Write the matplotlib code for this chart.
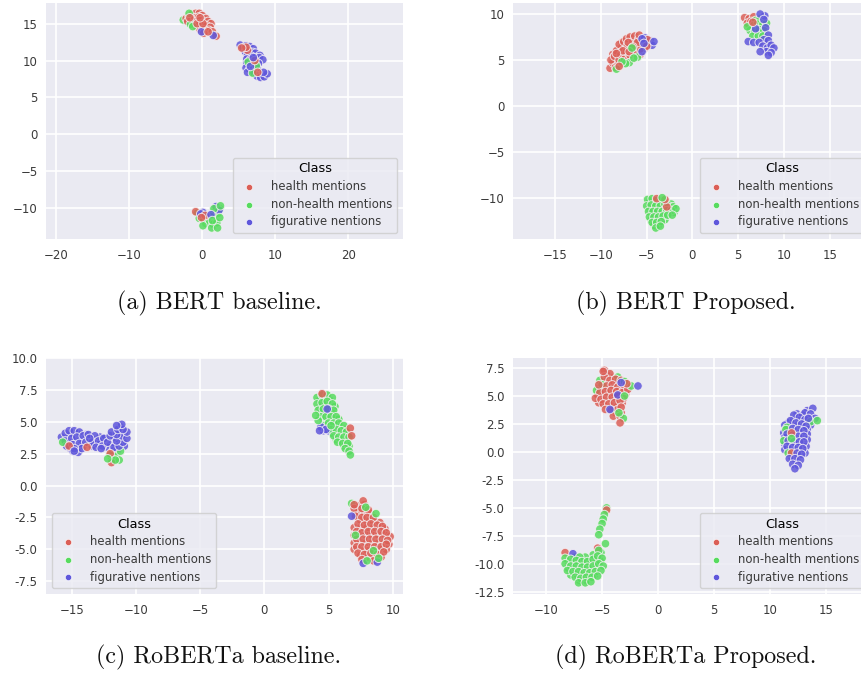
import matplotlib
matplotlib.use("Agg")
import matplotlib.pyplot as plt
import numpy as np

# class ids: 0 health, 1 non-health, 2 figurative
class_names = ["health mentions", "non-health mentions", "figurative nentions"]
class_colors = ["#db5f57", "#57db5f", "#5f57db"]
captions = ["(a) BERT baseline.", "(b) BERT Proposed.", "(c) RoBERTa baseline.", "(d) RoBERTa Proposed."]

# points are (x, y, class), drawn in this order
points_a = [
    # top cluster
    (-2.6, 15.5, 1), (-2.2, 15.7, 0), (-1.8, 16.0, 0), (-1.4, 16.3, 0), (-0.9, 16.4, 0), (-0.4, 16.4, 0), (0.0, 16.1, 0),
    (-2.0, 15.3, 0), (-1.5, 15.6, 0), (-1.0, 15.8, 0), (-0.5, 15.9, 0), (0.1, 15.6, 0), (0.5, 15.7, 0), (-1.3, 15.0, 0),
    (-0.8, 15.3, 0), (-0.3, 15.4, 0), (0.3, 15.2, 0), (0.8, 15.3, 0), (1.2, 15.0, 0), (-0.9, 14.7, 0), (-0.4, 14.8, 0),
    (0.1, 14.7, 0), (0.6, 14.7, 0), (1.1, 14.5, 0), (-0.3, 14.2, 0), (0.3, 14.2, 0), (0.9, 14.1, 0), (1.4, 13.9, 0),
    (0.2, 13.7, 0), (1.9, 13.3, 0), (-1.8, 16.4, 1), (-1.6, 14.9, 1), (-1.3, 14.6, 1), (-0.1, 13.9, 2), (1.5, 13.4, 2),
    (0.8, 13.9, 0), (-0.7, 15.0, 0), (-1.7, 15.8, 0), (0.1, 15.0, 0), (-0.3, 15.8, 0),
    # right cluster
    (5.2, 12.1, 2), (5.6, 11.7, 2), (6.0, 12.0, 2), (6.5, 11.9, 2), (7.0, 11.6, 2), (5.9, 11.2, 2), (6.4, 11.2, 2),
    (6.9, 11.1, 2), (7.3, 11.0, 2), (7.9, 10.7, 2), (6.2, 10.7, 2), (6.7, 10.6, 2), (7.3, 10.4, 2), (6.1, 10.2, 2),
    (6.6, 10.1, 2), (7.2, 9.9, 2), (7.8, 10.4, 2), (8.3, 10.1, 2), (6.1, 9.6, 2), (6.6, 9.4, 2), (7.1, 9.5, 2),
    (7.7, 9.6, 2), (6.0, 9.0, 2), (6.5, 8.8, 2), (7.0, 8.8, 2), (7.5, 9.0, 2), (6.2, 8.4, 2), (7.1, 8.3, 2),
    (7.5, 7.9, 2), (8.0, 7.7, 2), (8.5, 7.8, 2), (8.9, 8.2, 2), (8.4, 8.4, 2), (6.2, 11.4, 0), (6.0, 11.8, 0),
    (5.4, 11.7, 0), (6.3, 9.8, 1), (7.4, 9.3, 1), (6.9, 8.3, 1), (6.6, 9.2, 2),
    (7.6, 8.4, 0), (7.2, 10.0, 0), (7.0, 10.4, 2),
    # bottom cluster
    (-0.7, -10.7, 1), (-0.2, -10.9, 1), (0.3, -11.0, 1), (-0.4, -11.4, 1), (0.2, -11.6, 1), (0.7, -11.5, 1), (1.2, -11.3, 1),
    (1.7, -11.1, 1), (0.5, -12.1, 1), (1.0, -12.0, 1), (1.5, -12.2, 1), (2.0, -12.0, 1), (1.3, -12.7, 1), (2.1, -12.7, 1),
    (0.1, -12.4, 1), (1.6, -10.6, 1), (2.2, -10.7, 1), (2.4, -10.1, 1), (1.9, -9.8, 2), (2.3, -10.3, 2), (1.6, -10.1, 1),
    (-0.9, -10.5, 0), (0.1, -10.6, 2), (-0.2, -10.8, 2), (0.4, -11.0, 0), (1.2, -10.9, 2), (-0.1, -11.3, 0),
    (2.5, -9.7, 1), (1.4, -11.7, 1), (2.4, -11.3, 1),
]

points_b = [
    # left cluster, underlay
    (-8.7, 5.6, 0), (-8.6, 4.3, 0), (-8.4, 4.9, 0), (-8.1, 6.2, 0), (-7.8, 5.2, 0), (-7.5, 5.6, 0), (-7.4, 6.4, 0),
    (-7.3, 4.9, 0), (-7.7, 6.9, 0), (-7.0, 6.3, 0), (-6.9, 7.2, 0), (-6.6, 6.7, 0), (-6.5, 5.6, 0), (-6.2, 6.1, 0),
    (-6.1, 7.3, 0), (-5.8, 6.6, 0), (-5.6, 7.2, 0), (-6.0, 5.6, 0), (-5.7, 5.6, 0), (-6.6, 5.1, 0), (-7.1, 5.4, 0),
    (-8.6, 5.3, 0), (-5.4, 6.9, 0), (-5.2, 6.3, 0), (-5.8, 6.0, 0), (-7.9, 6.1, 0), (-8.2, 5.4, 0), (-7.9, 4.8, 0),
    # left cluster
    (-9.0, 4.1, 0), (-8.7, 4.7, 0), (-8.9, 5.0, 0), (-8.4, 4.2, 0), (-8.1, 4.5, 0), (-8.5, 5.4, 0), (-8.0, 5.0, 0),
    (-8.3, 6.0, 0), (-7.8, 5.6, 0), (-7.4, 5.1, 0), (-7.0, 5.0, 0), (-7.7, 6.4, 0), (-7.2, 5.9, 0), (-6.8, 5.5, 0),
    (-8.0, 6.7, 0), (-7.5, 7.0, 0), (-7.1, 6.6, 0), (-6.7, 6.1, 0), (-6.3, 5.7, 0), (-7.2, 7.3, 0), (-6.8, 7.5, 0),
    (-6.5, 7.0, 0), (-6.2, 6.5, 0), (-6.3, 7.6, 0), (-5.9, 7.2, 0), (-5.7, 6.2, 0), (-6.0, 6.9, 0), (-7.0, 6.9, 0),
    (-7.6, 6.0, 0), (-8.3, 5.7, 0), (-6.5, 6.4, 0), (-6.9, 5.9, 0), (-5.8, 7.7, 0), (-6.9, 4.7, 1), (-7.3, 4.6, 1),
    (-6.0, 5.3, 1), (-6.4, 5.2, 1), (-6.6, 6.3, 1), (-7.7, 4.8, 1), (-8.3, 4.0, 1), (-8.0, 4.3, 0),
    (-5.2, 7.4, 2), (-5.0, 7.0, 2), (-4.6, 7.1, 2), (-4.4, 6.6, 2), (-4.9, 7.2, 0), (-5.0, 6.5, 0),
    (-5.5, 7.3, 2), (-5.3, 6.8, 2), (-5.5, 5.9, 2), (-4.2, 7.0, 2),
    # top right cluster
    (5.7, 9.6, 0), (6.2, 9.5, 0), (6.7, 9.7, 0), (6.0, 9.0, 0), (6.4, 9.2, 0), (6.9, 9.3, 1), (7.4, 9.5, 1),
    (6.6, 8.7, 1), (7.1, 8.9, 1), (7.7, 8.9, 1), (8.1, 9.0, 1), (6.3, 8.2, 1), (6.8, 8.1, 1), (7.3, 8.3, 1),
    (7.8, 8.2, 1), (6.6, 7.6, 1), (7.2, 7.6, 1), (7.7, 7.6, 1), (7.9, 9.8, 2), (7.4, 10.0, 2), (7.8, 9.4, 2),
    (8.0, 8.5, 2), (6.9, 8.4, 2), (8.3, 7.7, 2), (7.8, 7.2, 2), (8.3, 7.1, 2), (6.1, 7.0, 2),
    (6.7, 6.9, 2), (7.3, 6.9, 2), (7.7, 6.5, 2), (8.2, 6.3, 2), (8.6, 6.6, 2), (8.9, 6.3, 2), (8.1, 5.9, 2),
    (8.6, 5.8, 2), (7.4, 5.9, 2), (8.3, 5.5, 2), (6.0, 8.6, 1), (6.6, 9.1, 0),
    # bottom cluster, underlay
    (-4.7, -10.5, 1), (-4.2, -10.5, 1), (-3.7, -10.6, 1), (-3.2, -10.7, 1), (-2.7, -10.6, 1), (-2.3, -10.7, 1), (-4.7, -11.2, 1),
    (-4.1, -11.2, 1), (-3.6, -11.2, 1), (-3.0, -11.2, 1), (-2.5, -11.6, 1), (-2.0, -11.6, 1), (-4.5, -11.8, 1), (-4.0, -11.8, 1),
    (-3.5, -11.8, 1), (-3.0, -11.7, 1), (-4.5, -12.4, 1), (-4.0, -12.4, 1), (-3.5, -12.4, 1), (-3.0, -12.4, 1), (-4.2, -13.0, 1),
    (-3.7, -13.0, 1),
    # bottom cluster
    (-4.9, -10.2, 1), (-4.4, -10.1, 1), (-3.9, -10.3, 1), (-3.4, -10.3, 1), (-5.0, -10.9, 1), (-4.5, -10.8, 1), (-4.0, -10.9, 1),
    (-3.5, -10.9, 1), (-3.0, -10.7, 1), (-2.6, -10.9, 1), (-2.1, -11.0, 1), (-4.8, -11.5, 1), (-4.3, -11.5, 1), (-3.8, -11.5, 1),
    (-3.3, -11.5, 1), (-2.8, -11.4, 1), (-2.3, -11.4, 1), (-1.8, -11.2, 1), (-4.7, -12.1, 1), (-4.2, -12.1, 1), (-3.7, -12.1, 1),
    (-3.2, -12.0, 1), (-2.7, -11.9, 1), (-2.2, -11.9, 1), (-4.4, -12.7, 1), (-3.9, -12.7, 1), (-3.4, -12.6, 1), (-4.0, -13.3, 1),
    (-3.5, -13.1, 1), (-3.9, -10.1, 0), (-2.8, -11.0, 0), (-3.0, -10.2, 0), (-3.3, -10.0, 1),
]

points_c = [
    # left cluster, underlay
    (-15.6, 3.6, 2), (-15.3, 3.9, 2), (-15.0, 4.1, 2), (-14.6, 4.1, 2), (-14.2, 3.7, 2), (-13.9, 4.0, 2), (-13.5, 3.7, 2),
    (-15.2, 3.4, 2), (-14.7, 3.5, 2), (-14.2, 3.3, 2), (-13.7, 3.4, 2), (-13.2, 3.6, 2), (-12.8, 3.8, 2), (-12.3, 3.3, 2),
    (-15.1, 2.9, 2), (-14.6, 3.0, 2), (-14.1, 3.1, 2), (-13.4, 3.1, 2), (-12.9, 3.2, 2), (-12.4, 3.7, 2), (-12.2, 3.0, 2),
    (-11.6, 3.2, 2), (-11.3, 3.5, 2), (-10.9, 3.1, 2), (-11.7, 3.8, 2), (-11.3, 4.2, 2), (-10.9, 4.0, 2), (-11.2, 4.6, 2),
    (-11.8, 2.7, 2), (-11.4, 2.8, 2),
    # left cluster
    (-15.8, 3.8, 2), (-15.5, 4.1, 2), (-15.2, 4.3, 2), (-14.8, 4.3, 2), (-14.4, 4.2, 2), (-15.5, 3.5, 2), (-15.0, 3.7, 2),
    (-14.6, 3.8, 2), (-14.1, 3.9, 2), (-13.7, 4.0, 2), (-13.2, 3.9, 2), (-15.4, 3.1, 2), (-14.9, 3.2, 2), (-14.4, 3.3, 2),
    (-13.9, 3.4, 2), (-13.4, 3.4, 2), (-12.9, 3.5, 2), (-12.5, 3.7, 2), (-14.9, 2.7, 2), (-14.5, 2.6, 2), (-14.2, 2.9, 2),
    (-13.1, 3.0, 2), (-12.6, 3.1, 2), (-12.2, 3.4, 2), (-12.0, 3.9, 2), (-12.7, 2.9, 2), (-13.6, 3.7, 2), (-14.8, 2.9, 2),
    (-15.7, 3.4, 1), (-12.0, 2.4, 1), (-11.5, 2.3, 1), (-11.2, 2.7, 1), (-11.9, 2.1, 1), (-11.3, 2.0, 1), (-11.7, 3.0, 2),
    (-11.3, 3.1, 2), (-11.0, 3.4, 2), (-11.5, 3.5, 2), (-11.1, 3.9, 2), (-10.7, 3.7, 2), (-11.5, 4.0, 2), (-10.7, 4.2, 2),
    (-11.9, 4.2, 2), (-11.4, 4.4, 2), (-11.0, 4.4, 2), (-11.1, 4.8, 2), (-11.5, 4.7, 2), (-15.2, 3.1, 0), (-13.8, 3.0, 0),
    (-12.0, 2.5, 0), (-11.9, 1.8, 0), (-11.6, 2.0, 1), (-12.2, 2.1, 1), (-14.8, 2.7, 2),
    # middle cluster, underlay
    (4.3, 6.7, 1), (4.7, 6.8, 1), (5.1, 6.7, 1), (4.3, 6.1, 1), (4.8, 6.3, 1), (5.2, 6.1, 1), (5.5, 6.2, 1),
    (4.4, 5.7, 1), (4.8, 5.7, 1), (5.3, 5.7, 1), (4.6, 5.1, 1), (5.0, 5.2, 1), (5.4, 5.1, 1), (5.8, 5.2, 1),
    (4.7, 4.7, 1), (5.1, 4.6, 1), (5.5, 4.6, 1), (5.9, 4.6, 1), (6.3, 4.4, 1), (5.3, 4.1, 1), (5.7, 4.0, 1),
    (6.1, 4.0, 1), (6.5, 4.0, 1), (5.6, 3.6, 1), (6.0, 3.5, 1), (6.4, 3.5, 1), (6.2, 3.1, 1), (6.6, 3.1, 1),
    (4.6, 4.3, 2), (5.0, 4.3, 2),
    # middle cluster
    (4.1, 6.9, 1), (4.5, 7.1, 1), (4.9, 7.1, 1), (5.3, 6.9, 1), (4.1, 6.4, 1), (4.5, 6.5, 1), (4.9, 6.6, 1),
    (5.3, 6.4, 1), (4.2, 5.9, 1), (4.6, 6.0, 1), (5.0, 6.0, 1), (5.4, 5.9, 1), (4.4, 5.4, 1), (4.8, 5.4, 1),
    (5.2, 5.4, 1), (5.6, 5.4, 1), (5.0, 4.9, 1), (5.4, 4.9, 1), (5.8, 4.9, 1), (6.2, 4.7, 1), (5.2, 4.4, 1),
    (5.6, 4.4, 1), (6.0, 4.3, 1), (6.4, 4.2, 1), (5.4, 3.9, 1), (5.8, 3.8, 1), (6.2, 3.8, 1), (6.6, 3.8, 1),
    (5.7, 3.4, 1), (6.1, 3.3, 1), (6.5, 3.3, 1), (6.3, 2.9, 1), (6.6, 2.7, 1), (6.7, 2.4, 1), (4.4, 4.6, 2),
    (4.8, 4.4, 2), (4.3, 4.3, 2), (4.5, 7.2, 0), (6.7, 4.5, 0), (6.8, 3.9, 0), (4.2, 5.1, 1),
    (4.0, 5.5, 1), (4.9, 6.0, 2), (5.2, 4.7, 1),
    # bottom right cluster, underlay
    (7.3, -1.6, 0), (7.8, -1.5, 0), (7.3, -2.1, 0), (7.8, -2.2, 0), (8.3, -2.2, 0), (7.5, -2.7, 0), (8.0, -2.8, 0),
    (8.5, -2.8, 0), (9.0, -2.9, 0), (7.0, -3.3, 0), (7.5, -3.3, 0), (8.0, -3.3, 0), (8.5, -3.3, 0), (9.0, -3.4, 0),
    (9.4, -3.4, 0), (7.0, -3.9, 0), (7.4, -3.9, 0), (7.9, -3.9, 0), (8.4, -3.9, 0), (8.9, -3.9, 0), (9.4, -3.9, 0),
    (9.8, -4.0, 0), (7.0, -4.5, 0), (7.5, -4.5, 0), (7.9, -4.5, 0), (8.4, -4.5, 0), (8.9, -4.5, 0), (9.4, -4.4, 0),
    (9.7, -4.6, 0), (7.0, -5.0, 0), (7.5, -5.1, 0), (8.0, -5.1, 0), (8.5, -5.1, 0), (9.0, -5.0, 0), (9.5, -5.0, 0),
    (7.5, -5.5, 0), (8.1, -5.6, 0), (8.6, -5.6, 0), (9.1, -5.6, 0),
    # bottom right cluster
    (6.8, -1.4, 1), (7.7, -1.2, 0), (7.0, -1.8, 0), (7.6, -1.8, 0), (8.1, -1.9, 0), (7.1, -2.4, 0), (7.6, -2.5, 0),
    (8.0, -2.5, 0), (8.5, -2.5, 0), (7.3, -3.0, 0), (7.8, -3.1, 0), (8.3, -3.0, 0), (8.8, -3.1, 0), (9.2, -3.2, 0),
    (7.2, -3.6, 0), (7.6, -3.7, 0), (8.1, -3.6, 0), (8.6, -3.6, 0), (9.1, -3.6, 0), (9.5, -3.7, 0), (7.2, -4.2, 0),
    (7.7, -4.2, 0), (8.2, -4.2, 0), (8.7, -4.2, 0), (9.2, -4.2, 0), (9.6, -4.3, 0), (7.2, -4.8, 0), (7.6, -4.8, 0),
    (8.1, -4.8, 0), (8.6, -4.8, 0), (9.1, -4.8, 0), (9.5, -4.6, 0), (7.3, -5.3, 0), (7.8, -5.4, 0), (8.3, -5.3, 0),
    (8.8, -5.4, 0), (9.3, -5.2, 0), (7.6, -5.8, 0), (8.5, -5.9, 0), (7.0, -1.5, 0), (7.9, -1.7, 1),
    (8.7, -2.2, 1), (6.8, -2.4, 2), (7.1, -3.9, 1), (8.5, -5.1, 1), (8.8, -6.0, 2), (7.7, -6.1, 2), (8.0, -5.9, 1),
    (8.9, -5.7, 1),
]

points_d = [
    # top cluster, underlay
    (-4.6, 6.9, 0), (-4.1, 6.6, 0), (-4.9, 6.3, 0), (-4.4, 6.1, 0), (-3.9, 6.2, 0), (-3.4, 6.0, 0), (-5.3, 5.7, 0),
    (-4.8, 5.7, 0), (-4.3, 5.7, 0), (-3.8, 5.7, 0), (-3.3, 5.7, 0), (-2.9, 5.8, 0), (-5.4, 5.1, 0), (-4.9, 5.1, 0),
    (-4.4, 5.2, 0), (-3.9, 5.2, 0), (-3.4, 5.2, 0), (-2.9, 5.2, 0), (-5.3, 4.4, 0), (-4.8, 4.6, 0), (-4.3, 4.6, 0),
    (-3.8, 4.7, 0), (-3.2, 4.4, 0), (-4.6, 4.1, 0), (-4.1, 4.1, 0), (-3.6, 4.1, 0), (-3.8, 3.5, 0), (-3.3, 3.5, 0),
    # top cluster
    (-4.8, 7.3, 0), (-4.3, 7.0, 0), (-3.6, 6.7, 1), (-5.2, 6.4, 1), (-4.8, 6.7, 0), (-4.3, 6.4, 0), (-3.8, 6.5, 0),
    (-5.0, 6.0, 1), (-4.6, 5.9, 0), (-4.1, 6.0, 0), (-3.6, 5.8, 0), (-3.1, 5.5, 0), (-5.5, 5.5, 1), (-5.2, 5.3, 0),
    (-4.7, 5.4, 0), (-4.2, 5.5, 0), (-3.7, 5.4, 0), (-3.2, 5.3, 0), (-2.7, 5.6, 0), (-5.6, 4.8, 0), (-5.1, 4.7, 0),
    (-4.6, 4.9, 0), (-4.1, 4.9, 0), (-3.6, 5.0, 0), (-3.1, 4.8, 0), (-4.9, 4.3, 0), (-4.4, 4.3, 0), (-3.9, 4.4, 0),
    (-3.4, 4.6, 0), (-4.7, 3.8, 0), (-4.2, 3.7, 0), (-3.6, 3.8, 0), (-3.3, 4.0, 0), (-4.0, 3.2, 0), (-3.4, 3.2, 0),
    (-3.1, 3.0, 1), (-3.4, 2.6, 0), (-3.5, 3.5, 1), (-2.4, 5.9, 1), (-3.3, 6.4, 0), (-3.0, 6.3, 1), (-2.8, 6.1, 0),
    (-3.3, 6.2, 2), (-1.8, 5.9, 2), (-3.6, 5.1, 2), (-3.0, 5.0, 1), (-4.3, 3.8, 2), (-5.3, 6.0, 0), (-4.9, 7.2, 0),
    # tail and bottom cluster, underlay
    (-8.0, -9.8, 1), (-7.5, -9.9, 1), (-7.0, -9.9, 1), (-6.5, -10.0, 1), (-6.0, -10.0, 1), (-5.5, -9.9, 1), (-5.1, -9.0, 1),
    (-8.0, -10.4, 1), (-7.5, -10.4, 1), (-7.0, -10.5, 1), (-6.5, -10.5, 1), (-6.0, -10.5, 1), (-5.5, -10.4, 1), (-7.8, -11.0, 1),
    (-7.2, -11.0, 1), (-6.7, -11.0, 1), (-6.2, -11.0, 1), (-5.7, -11.0, 1), (-7.0, -11.5, 1), (-6.4, -11.5, 1), (-5.8, -9.2, 1),
    (-6.5, -9.4, 1), (-7.4, -9.4, 1), (-5.2, -9.7, 1),
    # tail and bottom cluster
    (-4.6, -5.0, 1), (-4.6, -5.2, 0), (-4.8, -5.6, 1), (-4.9, -6.0, 1), (-5.0, -6.4, 1), (-5.2, -6.9, 1), (-5.3, -7.4, 1),
    (-4.7, -8.2, 1), (-5.4, -8.6, 0), (-5.3, -8.8, 1), (-8.3, -9.0, 0), (-7.6, -9.1, 2), (-7.0, -9.4, 1), (-8.3, -9.5, 1),
    (-7.8, -9.6, 1), (-7.3, -9.7, 1), (-6.8, -9.8, 1), (-6.3, -9.8, 1), (-5.8, -9.6, 1), (-5.4, -9.3, 1), (-5.0, -9.5, 1),
    (-8.3, -10.0, 1), (-7.8, -10.2, 1), (-7.3, -10.2, 1), (-6.8, -10.3, 1), (-6.3, -10.3, 1), (-5.8, -10.2, 1), (-5.3, -10.0, 1),
    (-4.9, -10.2, 1), (-8.1, -10.6, 1), (-7.6, -10.7, 1), (-7.1, -10.7, 1), (-6.6, -10.8, 1), (-6.1, -10.8, 1), (-5.6, -10.7, 1),
    (-5.1, -10.6, 1), (-7.4, -11.2, 1), (-6.9, -11.3, 1), (-6.4, -11.2, 1), (-5.9, -11.2, 1), (-5.4, -11.1, 1), (-7.1, -11.7, 1),
    (-6.5, -11.7, 1), (-6.0, -11.6, 1),
    # right cluster, underlay
    (13.3, 3.7, 2), (12.4, 3.4, 2), (12.9, 3.3, 2), (11.6, 2.6, 2), (12.1, 2.9, 2), (12.6, 2.8, 2), (13.1, 2.6, 2),
    (13.6, 2.4, 2), (11.3, 2.4, 2), (11.8, 2.3, 2), (12.3, 2.3, 2), (12.8, 2.2, 2), (13.3, 2.0, 2), (11.2, 1.7, 2),
    (11.7, 1.9, 2), (12.2, 1.8, 2), (12.7, 1.7, 2), (13.3, 1.6, 2), (11.3, 1.3, 2), (11.8, 1.2, 2), (12.3, 1.2, 2),
    (12.8, 1.2, 2), (13.3, 1.1, 2), (11.3, 0.7, 2), (11.8, 0.7, 2), (12.3, 0.7, 2), (12.8, 0.6, 2), (13.2, 0.5, 2),
    (11.3, 0.2, 2), (11.8, 0.2, 2), (12.3, 0.2, 2), (12.7, 0.1, 2), (13.1, -0.1, 2), (11.9, -0.4, 2), (12.5, -0.4, 2),
    # right cluster
    (13.8, 3.9, 2), (13.1, 3.5, 2), (13.6, 3.4, 2), (14.0, 3.0, 2), (12.1, 3.3, 2), (12.6, 3.1, 2), (13.1, 2.9, 2),
    (13.6, 2.7, 1), (13.4, 3.0, 2), (11.8, 2.8, 2), (12.3, 2.6, 2), (12.8, 2.5, 2), (13.2, 2.3, 2), (11.5, 2.2, 1),
    (11.4, 2.0, 1), (12.0, 2.1, 2), (12.5, 2.0, 2), (13.0, 1.9, 2), (11.5, 1.6, 2), (12.0, 1.5, 2), (12.5, 1.4, 2),
    (13.0, 1.4, 2), (11.2, 1.0, 1), (11.6, 1.0, 2), (12.1, 0.9, 2), (12.6, 0.9, 2), (13.0, 0.9, 2), (11.5, 0.5, 2),
    (12.0, 0.4, 2), (12.5, 0.4, 2), (12.9, 0.3, 2), (11.6, -0.1, 1), (11.9, -0.1, 0), (12.4, -0.1, 2), (12.8, -0.2, 2),
    (11.7, -0.6, 2), (12.2, -0.6, 2), (12.7, -0.7, 2), (12.0, -1.1, 2), (12.5, -1.2, 2), (12.2, -1.5, 2), (14.2, 2.8, 1),
    (11.9, 1.7, 0), (11.9, 1.2, 1),
]

# axes box in pixels (left, top, right, bottom), (b) and (d) run past the image edge
boxes = [(46, 3, 403, 239), (513, 3, 870, 239), (46, 358, 403, 594), (513, 358, 870, 594)]
xlims = [(-21.4, 27.5), (-19.6, 19.4), (-17.0, 10.8), (-12.95, 18.9)]
ylims = [(-14.2, 17.8), (-14.5, 11.2), (-8.5, 10.0), (-12.7, 8.4)]
xticks = [[-20, -10, 0, 10, 20], [-15, -10, -5, 0, 5, 10, 15], [-15, -10, -5, 0, 5, 10], [-10, -5, 0, 5, 10, 15]]
yticks = [[-10, -5, 0, 5, 10, 15], [-10, -5, 0, 5, 10], [-7.5, -5, -2.5, 0, 2.5, 5, 7.5, 10], [-12.5, -10, -7.5, -5, -2.5, 0, 2.5, 5, 7.5]]
legend_locs = ["lower right", "lower right", "lower left", "lower right"]
caption_y = [303, 303, 657, 657]
caption_x = [219, 686, 219, 686]

W, H = 862, 675
fig = plt.figure(figsize=(W / 100, H / 100), dpi=100)

for i, points in enumerate([points_a, points_b, points_c, points_d]):
    l, t, r, b = boxes[i]
    ax = fig.add_axes([l / W, 1 - b / H, (r - l) / W, (b - t) / H], facecolor="#EAEAF2")
    pts = np.array(points)
    cols = [class_colors[int(c)] for c in pts[:, 2]]
    ax.scatter(pts[:, 0], pts[:, 1], c=cols, s=38, edgecolors="#f4f0f4", linewidths=0.7, alpha=0.85, zorder=3)

    ax.set_xlim(*xlims[i])
    ax.set_ylim(*ylims[i])
    ax.set_xticks(xticks[i])
    ax.set_yticks(yticks[i])
    ax.grid(color="white", linewidth=1.2)
    ax.set_axisbelow(True)
    ax.tick_params(length=0, labelsize=8.5, labelcolor="#3a3a3a")
    ax.tick_params(axis="x", pad=7)
    ax.tick_params(axis="y", pad=6)
    if i >= 2:
        ax.yaxis.set_major_formatter(matplotlib.ticker.FormatStrFormatter("%.1f"))
    for s in ax.spines.values():
        s.set_visible(False)

    for name, col in zip(class_names, class_colors):
        ax.scatter([], [], color=col, s=20, edgecolors="white", linewidths=0.4, label=name)
    ax.legend(title="Class", loc=legend_locs[i], fontsize=8.4, title_fontsize=9.3, facecolor="#EAEAF2",
              edgecolor="#cccccc", framealpha=0.8, labelcolor="#3a3a3a", borderaxespad=0.5,
              labelspacing=0.4, handletextpad=0.9, borderpad=0.4)

    fig.text(caption_x[i] / W, 1 - caption_y[i] / H, captions[i], family="cmr10", fontsize=17.3,
             ha="center", va="center", color="#111111")

fig.savefig("out.png", dpi=100)
